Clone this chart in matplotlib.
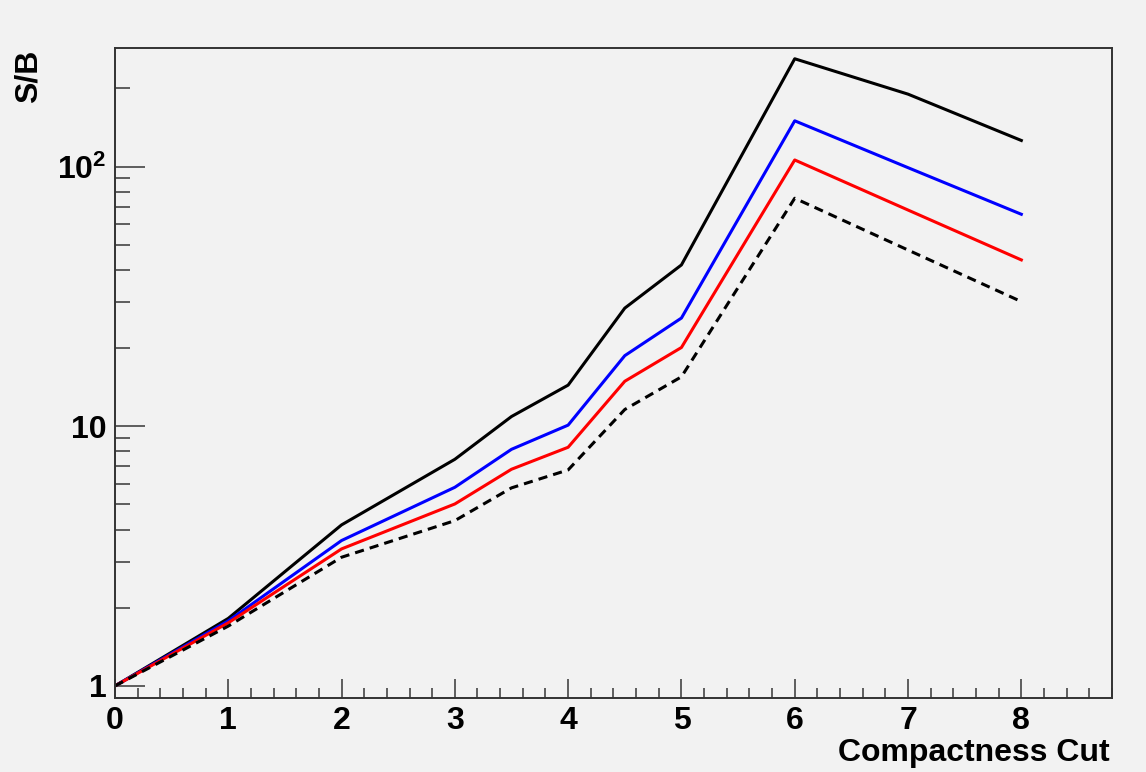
import matplotlib
matplotlib.use("Agg")
import matplotlib.pyplot as plt
from matplotlib.ticker import MultipleLocator, LogLocator, NullFormatter

plt.rcParams['font.family'] = ['Liberation Sans', 'DejaVu Sans']
plt.rcParams['mathtext.fontset'] = 'custom'
plt.rcParams['mathtext.rm'] = 'Liberation Sans:bold'
plt.rcParams['mathtext.bf'] = 'Liberation Sans:bold'

# compactness cut values
cuts = [0, 1, 2, 3, 3.5, 4, 4.5, 5, 6, 7, 8]
# S/B curves
sb_black = [1.0, 1.82, 4.17, 7.46, 10.9, 14.4, 28.5, 41.8, 260, 190, 126]
sb_blue = [1.0, 1.78, 3.63, 5.82, 8.15, 10.1, 18.7, 26.1, 150, 99, 65.5]
sb_red = [1.0, 1.75, 3.37, 5.02, 6.83, 8.3, 14.9, 20.1, 106, 68, 43.7]
sb_dashed = [1.0, 1.70, 3.13, 4.33, 5.79, 6.79, 11.6, 15.5, 75.5, 47.7, 30.2]

ytick_vals = [1, 10, 100]
ytick_text = ['1', '10', r'$\mathbf{10^{2}}$']

bg = '#f2f2f2'
fig = plt.figure(figsize=(11.46, 7.72), dpi=100, facecolor=bg)
ax = fig.add_axes([0.1003, 0.0959, 0.8700, 0.8419], facecolor=bg)

ax.plot(cuts, sb_black, color='black', lw=2.2)
ax.plot(cuts, sb_blue, color='#0000ff', lw=2.2)
ax.plot(cuts, sb_red, color='#ff0000', lw=2.2)
ax.plot(cuts, sb_dashed, color='black', lw=2.2, linestyle=(0, (3, 2)))

ax.set_yscale('log')
ax.set_xlim(0, 8.8)
ax.set_ylim(0.899, 286)

ax.xaxis.set_major_locator(MultipleLocator(1))
ax.xaxis.set_minor_locator(MultipleLocator(0.2))
ax.set_yticks(ytick_vals)
ax.set_yticklabels(ytick_text)
ax.yaxis.set_minor_locator(LogLocator(base=10, subs=range(2, 10)))
ax.yaxis.set_minor_formatter(NullFormatter())

for s in ax.spines.values():
    s.set_color('#333333')
    s.set_linewidth(1.4)

ax.tick_params(axis='x', which='major', direction='in', length=13.7, width=1.2,
               color='#444444', labelsize=23, pad=6, top=False)
ax.tick_params(axis='x', which='minor', direction='in', length=7, width=1.2,
               color='#444444', top=False)
ax.tick_params(axis='y', which='major', direction='in', length=21.6, width=1.2,
               color='#444444', labelsize=23, pad=6, right=False)
ax.tick_params(axis='y', which='minor', direction='in', length=10.8, width=1.2,
               color='#444444', right=False)
for lab in ax.get_xticklabels() + ax.get_yticklabels():
    lab.set_fontweight('bold')

ax.set_xlabel('Compactness Cut', fontsize=23, fontweight='bold', loc='right')
ax.xaxis.set_label_coords(0.998, -0.062)
ax.set_ylabel('S/B', fontsize=23, fontweight='bold', loc='top')
ax.yaxis.set_label_coords(-0.072, 0.997)

fig.savefig('out.png', dpi=100, facecolor=bg)
